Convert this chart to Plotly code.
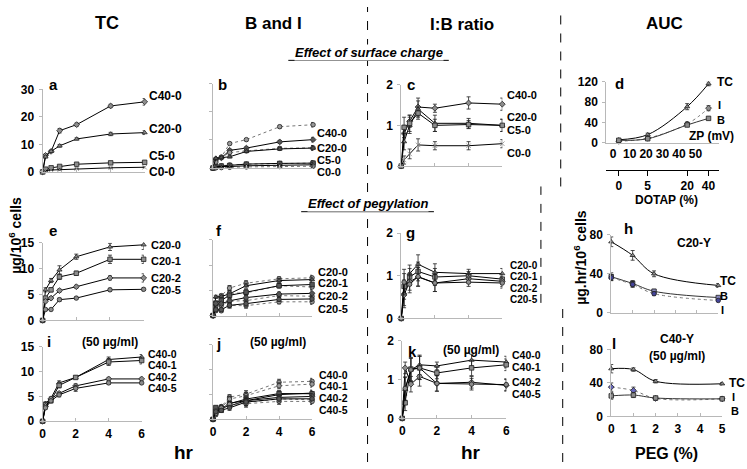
import plotly.graph_objects as go

W, H = 747, 469
T = [0, 0.17, 0.5, 1, 2, 4, 6]

# ---- panel a : TC, surface charge
A_TC = {'C40-0': [0, 6.0, 7.5, 15.0, 17.2, 24.0, 25.5],
        'C20-0': [0, 5.5, 7.5, 9.5, 12.0, 13.8, 14.3],
        'C5-0': [0, 1.0, 1.5, 2.0, 2.8, 3.3, 3.5],
        'C0-0': [0, 0.5, 0.7, 0.8, 1.2, 1.5, 1.7]}
A_ERR = {'C40-0': [0, 0.5, 0.4, 0.8, 0.6, 0.6, 1.2],
         'C20-0': [0, 0.4, 0.3, 0.5, 0.4, 0.6, 0.7],
         'C5-0': [0, 0.2, 0.2, 0.3, 0.3, 0.4, 0.4],
         'C0-0': [0, 0.1, 0.1, 0.2, 0.2, 0.2, 0.2]}
# ---- panel b : B (solid) and I (dotted)
B_B = {'C40-0': [0, 3.3, 3.6, 6.3, 7.1, 9.3, 10.1],
       'C20-0': [0, 3.4, 3.7, 4.0, 5.9, 6.8, 7.1],
       'C5-0': [0, 0.5, 0.72, 0.9, 1.4, 1.65, 1.75],
       'C0-0': [0, 0.43, 0.55, 0.53, 0.8, 1.07, 1.16]}
B_I = {'C40-0': [0, 2.7, 3.9, 8.7, 10.1, 14.7, 15.4],
       'C20-0': [0, 2.1, 3.8, 5.5, 6.1, 7.0, 7.2],
       'C5-0': [0, 0.5, 0.78, 1.1, 1.4, 1.65, 1.75],
       'C0-0': [0, 0.07, 0.15, 0.27, 0.4, 0.53, 0.64]}
B_ERR = [0, 0.3, 0.3, 0.4, 0.4, 0.5, 0.8]
# ---- panel c : I:B ratio
C_R = {'C40-0': [0, 0.8, 1.1, 1.45, 1.42, 1.55, 1.52],
       'C20-0': [0, 0.6, 1.0, 1.4, 1.05, 1.05, 1.0],
       'C5-0': [0, 0.95, 1.05, 1.3, 1.0, 1.02, 1.0],
       'C0-0': [0, 0.15, 0.3, 0.52, 0.5, 0.5, 0.55]}
C_ERR = {'C40-0': [0, 0.2, 0.15, 0.22, 0.1, 0.15, 0.15],
         'C20-0': [0, 0.2, 0.2, 0.2, 0.2, 0.12, 0.15],
         'C5-0': [0, 0.25, 0.2, 0.15, 0.15, 0.1, 0.15],
         'C0-0': [0, 0.1, 0.12, 0.15, 0.1, 0.1, 0.1]}
# ---- panel d : AUC vs zeta potential
D_ZP = [3.4, 21, 45, 58]
D_DOTAP = ['0', '5', '20', '40']
D_TC = [6, 16, 71, 116]
D_TC_ERR = [2, 3, 6, 4]
D_I = [3, 9, 37, 68]
D_I_ERR = [1, 2, 4, 5]
D_B = [5, 8, 35, 48]
D_B_ERR = [1, 1, 3, 3]
# ---- panel e : TC, pegylation C20
E_TC = {'C20-0': [0, 5.9, 7.7, 9.75, 12.3, 14.2, 14.6],
        'C20-1': [0, 4.3, 5.9, 8.4, 9.1, 11.8, 11.8],
        'C20-2': [0, 3.7, 4.3, 5.75, 6.5, 8.2, 8.2],
        'C20-5': [0, 2.1, 2.1, 4.0, 4.3, 5.9, 6.0]}
E_ERR = {'C20-0': [0, 0.4, 0.4, 0.8, 0.5, 0.7, 0.9],
         'C20-1': [0, 0.3, 0.4, 0.5, 0.4, 0.8, 0.8],
         'C20-2': [0, 0.3, 0.3, 0.3, 0.3, 0.4, 0.8],
         'C20-5': [0, 0.2, 0.2, 0.3, 0.2, 0.3, 0.3]}
# ---- panel f
F_B = {'C20-0': [0, 3.7, 3.76, 4.3, 5.9, 6.93, 7.12],
       'C20-1': [0, 2.46, 3.0, 4.0, 4.62, 5.9, 6.15],
       'C20-2': [0, 2.39, 2.31, 2.92, 3.55, 4.25, 4.39],
       'C20-5': [0, 1.14, 1.17, 2.02, 2.35, 3.19, 3.28]}
F_I = {'C20-0': [0, 2.2, 3.94, 5.45, 6.4, 7.27, 7.48],
       'C20-1': [0, 1.84, 2.9, 4.4, 4.48, 5.9, 5.65],
       'C20-2': [0, 1.31, 1.99, 2.83, 2.95, 3.95, 3.81],
       'C20-5': [0, 0.96, 0.93, 1.98, 1.95, 2.71, 2.72]}
F_ERR = [0, 0.3, 0.3, 0.5, 0.5, 0.4, 0.5]
# ---- panel g
G_R = {'C20-0': [0, 0.6, 1.05, 1.27, 1.08, 1.05, 1.05],
       'C20-1': [0, 0.75, 0.97, 1.1, 0.97, 1.0, 0.92],
       'C20-2': [0, 0.55, 0.86, 0.97, 0.83, 0.93, 0.87],
       'C20-5': [0, 0.85, 0.8, 0.98, 0.83, 0.85, 0.83]}
G_ERR = [0, 0.3, 0.2, 0.22, 0.2, 0.1, 0.12]
# ---- panel h
PEG = [0, 1, 2, 5]
H_TC = [73, 59, 40, 28]
H_TC_ERR = [5, 5, 3, 2]
H_B = [37, 30, 22, 15.5]
H_B_ERR = [4, 3, 2, 1.5]
H_I = [36, 29, 19.5, 12.5]
H_I_ERR = [3, 3, 2, 1]
# ---- panel i : TC, pegylation C40
I_TC = {'C40-0': [0, 3.6, 4.6, 7.7, 8.8, 12.4, 12.9],
        'C40-1': [0, 3.3, 4.1, 7.2, 8.8, 11.9, 12.2],
        'C40-2': [0, 3.0, 4.5, 5.6, 7.1, 8.5, 8.5],
        'C40-5': [0, 2.7, 4.1, 5.3, 6.6, 7.7, 7.7]}
I_ERR = {'C40-0': [0, 0.3, 0.3, 0.4, 0.3, 0.5, 0.5],
         'C40-1': [0, 0.3, 0.3, 0.5, 0.3, 0.7, 0.7],
         'C40-2': [0, 0.3, 0.3, 0.3, 0.4, 0.3, 0.3],
         'C40-5': [0, 0.3, 0.3, 0.4, 0.6, 0.3, 0.3]}
# ---- panel j
J_B = {'C40-0': [0, 2.06, 2.04, 3.24, 3.74, 4.96, 5.27],
       'C40-1': [0, 2.36, 1.81, 3.13, 4.06, 5.17, 5.13],
       'C40-2': [0, 1.3, 2.39, 2.69, 3.74, 4.4, 4.59],
       'C40-5': [0, 1.53, 1.82, 2.3, 3.47, 4.1, 4.12]}
J_I = {'C40-0': [0, 1.54, 2.56, 4.46, 5.06, 7.44, 7.63],
       'C40-1': [0, 0.94, 2.29, 4.07, 4.74, 6.73, 7.07],
       'C40-2': [0, 1.7, 2.11, 2.91, 3.36, 4.1, 3.91],
       'C40-5': [0, 1.17, 2.28, 3.0, 3.13, 3.6, 3.58]}
J_ERR = [0, 0.3, 0.3, 0.5, 0.7, 0.6, 0.6]
# ---- panel k
K_R = {'C40-0': [0, 0.75, 1.25, 1.38, 1.35, 1.5, 1.45],
       'C40-1': [0, 0.4, 1.27, 1.3, 1.17, 1.3, 1.38],
       'C40-2': [0, 1.3, 0.88, 1.08, 0.9, 0.93, 0.85],
       'C40-5': [0, 0.77, 1.25, 1.3, 0.9, 0.88, 0.87]}
K_ERR = {'C40-0': [0, 0.3, 0.3, 0.25, 0.1, 0.15, 0.15],
         'C40-1': [0, 0.2, 0.3, 0.3, 0.15, 0.2, 0.15],
         'C40-2': [0, 0.15, 0.2, 0.25, 0.2, 0.15, 0.15],
         'C40-5': [0, 0.3, 0.3, 0.3, 0.2, 0.15, 0.15]}
# ---- panel l
L_TC = [57, 56, 42, 39]
L_TC_ERR = [5, 2, 2, 1.5]
L_I = [35, 31, 21.5, 21]
L_I_ERR = [5, 4, 2, 1]
L_B = [24.5, 25.5, 22, 21]
L_B_ERR = [4, 3, 2, 1]

FONT = "Liberation Sans, Arial, sans-serif"
GREY = '#b8b8b8'

fig = go.Figure()


def fx(px):
    return px / W


def fy(py):
    return 1 - py / H


def axname(n, kind):
    return kind + ('' if n == 1 else str(n))


def add_axes(n, x0, x1, ybot, ytop, xr, yr, xticks, yticks, xlab, ylab):
    xa = dict(domain=[fx(x0), fx(x1)], range=xr, anchor=axname(n, 'y'),
              showline=True, linecolor=GREY, linewidth=1, showgrid=False,
              zeroline=False, ticks='inside', ticklen=3, tickcolor=GREY,
              tickvals=xticks, showticklabels=xlab, ticklabelstandoff=1,
              tickfont=dict(family=FONT, size=12, color='black', weight='bold'))
    ya = dict(domain=[fy(ybot), fy(ytop)], range=yr, anchor=axname(n, 'x'),
              showline=True, linecolor=GREY, linewidth=1, showgrid=False,
              zeroline=False, ticks='outside', ticklen=3, tickcolor=GREY,
              tickvals=yticks, showticklabels=ylab, ticklabelstandoff=2,
              tickfont=dict(family=FONT, size=12, color='black', weight='bold'))
    fig.update_layout(**{axname(n, 'xaxis'): xa, axname(n, 'yaxis'): ya})


def series(n, x, y, err, symbol, dash='solid', lcolor='black', mcolor='#8c8c8c',
           shape='linear', size=4.5):
    fig.add_trace(go.Scatter(
        x=x, y=y, xaxis=axname(n, 'x'), yaxis=axname(n, 'y'),
        mode='lines+markers',
        line=dict(color=lcolor, width=1, dash=dash, shape=shape),
        marker=dict(symbol=symbol, size=size, color=mcolor,
                    line=dict(color='#222', width=0.8)),
        error_y=dict(type='data', array=err, color='#222', thickness=0.8, width=2),
        cliponaxis=False, showlegend=False, hoverinfo='skip'))


SYM4 = ['diamond', 'triangle-up', 'square', 'x-thin-open']
SYMP = ['triangle-up', 'square', 'diamond', 'circle']
T6 = [0, 2, 4, 6]

# a
add_axes(1, 40, 143, 170, 85, [0, 6], [0, 30], T6, [0, 10, 20, 30], False, True)
for k, s in zip(A_TC, SYM4):
    series(1, T, A_TC[k], A_ERR[k], s)
# b
add_axes(2, 212, 313, 166, 79, [0, 6], [0, 30], T6, [0, 10, 20, 30], False, False)
for k, s in zip(B_B, SYM4):
    series(2, T, B_I[k], B_ERR, 'circle', dash='dot', lcolor='#777', mcolor='#999')
    series(2, T, B_B[k], B_ERR, s, mcolor='#555')
# c
add_axes(3, 402, 504, 164, 80, [0, 6], [0, 2], T6, [0, 1, 2], False, True)
for k, s in zip(C_R, SYM4):
    series(3, T, C_R[k], C_ERR[k], s)
# d
add_axes(4, 609, 723, 140, 77, [-4.2, 64.5], [0, 120], [0, 10, 20, 30, 40, 50],
         [0, 40, 80, 120], True, True)
fig.update_layout(xaxis4=dict(ticks='', showline=True, ticklabelstandoff=0))
series(4, D_ZP, D_TC, D_TC_ERR, 'triangle-up', shape='spline')
series(4, D_ZP, D_I, D_I_ERR, 'diamond', dash='dot', lcolor='#777', shape='spline')
series(4, D_ZP, D_B, D_B_ERR, 'square', lcolor='#333', shape='spline')
# DOTAP secondary axis
fig.update_layout(xaxis13=dict(overlaying='x4', anchor='free', position=fy(168),
                               range=[-4.2, 64.5], tickvals=D_ZP, ticktext=D_DOTAP,
                               showline=True, linecolor='black', linewidth=1,
                               ticks='outside', ticklen=5, tickcolor='black',
                               showgrid=False, zeroline=False, side='bottom',
                               ticklabelstandoff=0,
                               tickfont=dict(family=FONT, size=12, color='black', weight='bold')))
fig.add_trace(go.Scatter(x=D_ZP, y=D_TC, xaxis='x13', yaxis='y4', mode='markers',
                         marker=dict(opacity=0), showlegend=False, hoverinfo='skip'))
# e
add_axes(5, 40, 142, 323, 243, [0, 6], [0, 15], T6, [0, 5, 10, 15], False, True)
for k, s in zip(E_TC, SYMP):
    series(5, T, E_TC[k], E_ERR[k], s)
# f
add_axes(6, 212, 312, 318, 240, [0, 6], [0, 15], T6, [0, 5, 10, 15], False, False)
for k, s in zip(F_B, SYMP):
    series(6, T, F_I[k], F_ERR, 'circle', dash='dot', lcolor='#777', mcolor='#999')
    series(6, T, F_B[k], F_ERR, s, mcolor='#555')
# g
add_axes(7, 402, 504, 321, 233, [0, 6], [0, 2], T6, [0, 1, 2], False, True)
for k, s in zip(G_R, SYMP):
    series(7, T, G_R[k], G_ERR, s)
# h
add_axes(8, 614, 722, 315, 235, [0, 5], [0, 80], [0, 1, 2, 3, 4, 5], [0, 40, 80], False, True)
series(8, PEG, H_TC, H_TC_ERR, 'triangle-up', shape='spline')
series(8, PEG, H_B, H_B_ERR, 'square', lcolor='#333', mcolor='#8888bb', shape='spline')
series(8, PEG, H_I, H_I_ERR, 'circle', dash='dot', lcolor='#777', mcolor='#44449a', shape='spline')
# i
add_axes(9, 40, 140, 427, 350, [0, 6], [0, 15], T6, [0, 5, 10, 15], True, True)
for k, s in zip(I_TC, SYMP):
    series(9, T, I_TC[k], I_ERR[k], s)
# j
add_axes(10, 212, 312, 425, 348, [0, 6], [0, 15], T6, [0, 5, 10, 15], True, False)
for k, s in zip(J_B, SYMP):
    series(10, T, J_I[k], J_ERR, 'circle', dash='dot', lcolor='#777', mcolor='#999')
    series(10, T, J_B[k], J_ERR, s, mcolor='#555')
# k
add_axes(11, 403, 508, 424, 344, [0, 6], [0, 2], T6, [0, 1, 2], True, True)
for k, s in zip(K_R, SYMP):
    series(11, T, K_R[k], K_ERR[k], s)
# l
add_axes(12, 614, 726, 422, 353, [0, 5], [0, 80], [0, 1, 2, 3, 4, 5], [0, 40, 80], True, True)
series(12, PEG, L_TC, L_TC_ERR, 'triangle-up', shape='spline')
series(12, PEG, L_I, L_I_ERR, 'diamond', dash='dot', lcolor='#777', mcolor='#6666bb', shape='spline')
series(12, PEG, L_B, L_B_ERR, 'square', lcolor='#333', shape='spline')

anns = []


def ann(text, x, y, size=12, xanchor='left', angle=0, italic=False, bg=None):
    d = dict(text='<b>' + (('<i>' + text + '</i>') if italic else text) + '</b>',
             x=fx(x), y=fy(y), xref='paper', yref='paper',
             xanchor=xanchor, yanchor='middle', showarrow=False,
             textangle=angle, borderpad=0,
             font=dict(family=FONT, size=size, color='black'))
    if bg:
        d['bgcolor'] = bg
    anns.append(d)


# headers
ann('TC', 105, 17, 18, 'center')
ann('B and I', 273, 17, 17, 'center')
ann('I:B ratio', 463, 18, 17, 'center')
ann('AUC', 668, 17, 17, 'center')
ann('Effect of surface charge', 369, 47, 13, 'center', italic=True, bg='white')
ann('Effect of pegylation', 368, 203, 13, 'center', italic=True, bg='white')
# panel letters
for t, x, y in [('a', 49, 80), ('b', 220, 80), ('c', 411, 80), ('d', 621, 79),
                ('e', 49, 230), ('f', 218, 230), ('g', 410, 232), ('h', 630, 228),
                ('i', 47, 345), ('j', 218, 347), ('k', 412, 355), ('l', 618, 347)]:
    ann(t, x - 4, y, 15)
# series labels
for names, x, ys, sz in [
        (list(A_TC), 146, [92, 126, 154, 170], 12),
        (list(B_B), 316, [130, 145, 158, 170], 11),
        (list(C_R), 508, [91, 113, 127, 150], 11),
        (list(E_TC), 148, [245, 262, 279, 292], 11),
        (list(F_B), 317, [273, 285, 298, 311], 11),
        (list(G_R), 511, [266, 278, 290, 302], 10),
        (list(I_TC), 145, [358, 369.5, 381, 392.5], 10.5),
        (list(J_B), 318, [379, 391, 403, 415], 10.5),
        (list(K_R), 513, [359, 371, 387, 399], 10.5)]:
    for nm, y in zip(names, ys):
        ann(nm, x, y, sz)
ann('TC', 720, 77, 12)
ann('I', 721, 101, 11)
ann('B', 720, 116, 11)
ann('ZP (mV)', 739, 133, 12, 'right')
ann('DOTAP (%)', 670, 199, 12, 'center')
ann('C20-Y', 698, 243, 12, 'center')
ann('TC', 723, 282, 12)
ann('B', 723, 297.5, 11)
ann('I', 724, 312, 11)
ann('C40-Y', 680, 342, 12, 'center')
ann('(50 µg/ml)', 680, 360, 12, 'center')
ann('TC', 732, 388, 12)
ann('I', 735, 401.5, 11)
ann('B', 734, 416, 11)
ann('(50 µg/ml)', 108, 345, 12, 'center')
ann('(50 µg/ml)', 278, 345, 12, 'center')
ann('(50 µg/ml)', 472, 354, 12, 'center')
ann('hr', 183, 459, 19, 'center')
ann('hr', 472, 459, 19, 'center')
ann('PEG (%)', 670, 460, 16, 'center')
ann('µg/10<sup>6</sup> cells', 12, 235, 14, 'center', angle=-90)
ann('µg.hr/10<sup>6</sup> cells', 583, 258, 14, 'center', angle=-90)

shapes = [
    dict(type='line', xref='paper', yref='paper', x0=fx(368), x1=fx(368), y0=0, y1=1,
         line=dict(color='black', width=1, dash='dash'), layer='below'),
    dict(type='line', xref='paper', yref='paper', x0=fx(563), x1=fx(563), y0=fy(185), y1=1,
         line=dict(color='black', width=1, dash='dash'), layer='below'),
    dict(type='line', xref='paper', yref='paper', x0=fx(543), x1=fx(543), y0=fy(305), y1=fy(185),
         line=dict(color='black', width=1, dash='dash'), layer='below'),
    dict(type='line', xref='paper', yref='paper', x0=fx(565), x1=fx(565), y0=0, y1=fy(305),
         line=dict(color='black', width=1, dash='dash'), layer='below'),
    dict(type='line', xref='paper', yref='paper', x0=fx(288), x1=fx(450), y0=fy(55), y1=fy(55),
         line=dict(color='black', width=1)),
    dict(type='line', xref='paper', yref='paper', x0=fx(301), x1=fx(435), y0=fy(211), y1=fy(211),
         line=dict(color='black', width=1)),
]

fig.update_layout(width=W, height=H, margin=dict(l=0, r=0, t=0, b=0),
                  paper_bgcolor='white', plot_bgcolor='white',
                  annotations=anns, shapes=shapes, showlegend=False,
                  font=dict(family=FONT, color='black'))
fig.write_html("out.html", config={'displayModeBar': False},
               post_script="document.body.style.margin='0px';")
